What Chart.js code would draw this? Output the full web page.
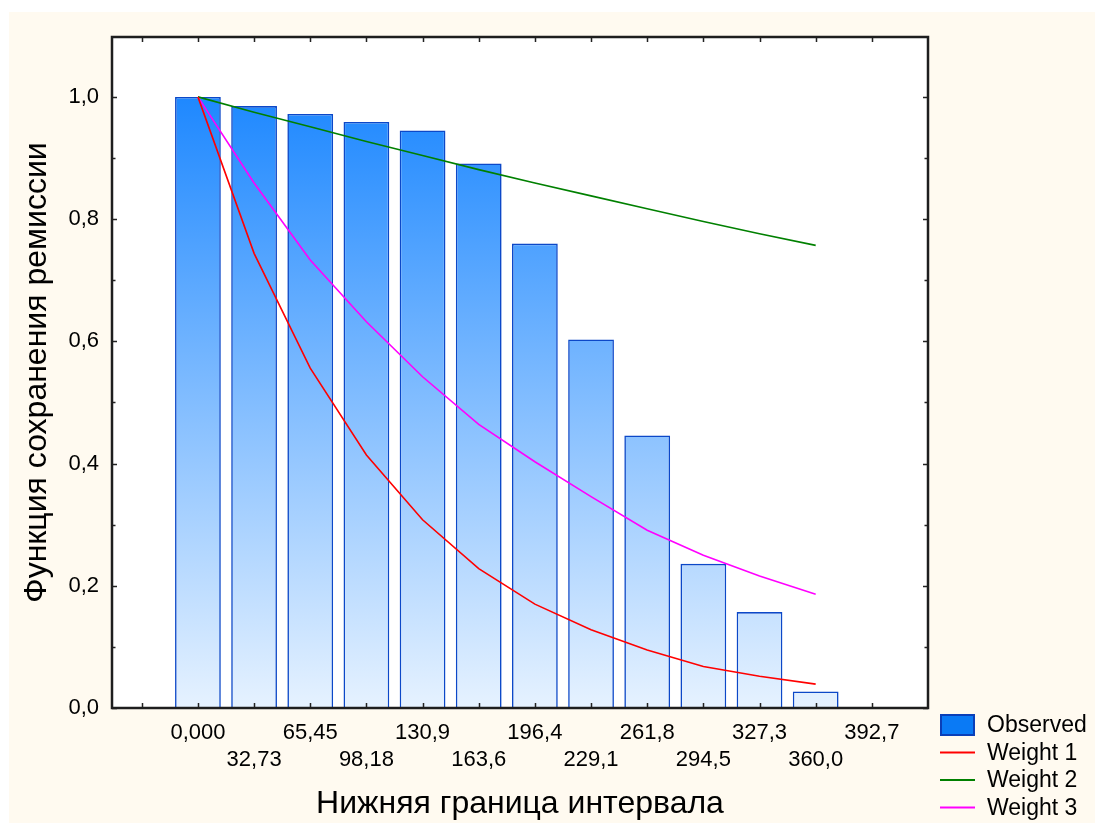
<!DOCTYPE html>
<html>
<head>
<meta charset="utf-8">
<script src="https://cdn.jsdelivr.net/npm/chart.js@4.4.0/dist/chart.umd.min.js"></script>
<style>
  html, body { margin: 0; padding: 0; background: #fff; overflow: hidden; }
  #wrap { position: absolute; left: 0; top: 0; width: 1095px; height: 823px; }
</style>
</head>
<body>
<div id="wrap"><canvas id="c" width="1095" height="823"></canvas></div>
<script>
// interval lower bounds (x tick labels)
const intervalLabels = ['0,000', '32,73', '65,45', '98,18', '130,9', '163,6', '196,4',
                        '229,1', '261,8', '294,5', '327,3', '360,0', '392,7'];
const observed = [1.000, 0.985, 0.972, 0.959, 0.945, 0.891, 0.760, 0.603, 0.446, 0.236, 0.157, 0.027];
const weight1  = [1.000, 0.744, 0.556, 0.414, 0.308, 0.228, 0.170, 0.128, 0.095, 0.068, 0.052, 0.039];
const weight2  = [1.000, 0.975, 0.951, 0.927, 0.904, 0.881, 0.859, 0.838, 0.817, 0.796, 0.776, 0.757];
const weight3  = [1.000, 0.859, 0.733, 0.632, 0.542, 0.464, 0.403, 0.346, 0.291, 0.250, 0.216, 0.186];
const yTicks = [0, 0.2, 0.4, 0.6, 0.8, 1.0];
const yMinorTicks = [0.1, 0.3, 0.5, 0.7, 0.9];

const FONT = '"Liberation Sans", Arial, sans-serif';
const toXY = arr => arr.map((y, i) => ({ x: i, y }));

// background, frame, inward ticks and legend
const framePlugin = {
    id: 'frame',
    beforeDraw(chart) {
        const { ctx, chartArea: a } = chart;
        ctx.save();
        ctx.fillStyle = '#ffffff';
        ctx.fillRect(0, 0, chart.width, chart.height);
        ctx.fillStyle = '#fffaf0';
        ctx.fillRect(9, 12, chart.width - 9, chart.height - 12);
        ctx.fillStyle = '#ffffff';
        ctx.fillRect(a.left, a.top, a.right - a.left, a.bottom - a.top);
        ctx.restore();
    },
    afterDraw(chart) {
        const { ctx, chartArea: a, scales } = chart;
        ctx.save();
        ctx.strokeStyle = '#222';
        ctx.lineWidth = 1.5;
        ctx.beginPath();
        for (let i = -1; i < intervalLabels.length; i++) {
            const px = Math.round(scales.x.getPixelForValue(i)) + 0.5;
            ctx.moveTo(px, a.bottom); ctx.lineTo(px, a.bottom - 5);
            ctx.moveTo(px, a.top); ctx.lineTo(px, a.top + 5);
        }
        yTicks.forEach(v => {
            const py = Math.round(scales.y.getPixelForValue(v)) + 0.5;
            ctx.moveTo(a.left, py); ctx.lineTo(a.left + 5, py);
            ctx.moveTo(a.right, py); ctx.lineTo(a.right - 5, py);
        });
        yMinorTicks.forEach(v => {
            const py = Math.round(scales.y.getPixelForValue(v)) + 0.5;
            ctx.moveTo(a.left, py); ctx.lineTo(a.left + 3.5, py);
            ctx.moveTo(a.right, py); ctx.lineTo(a.right - 3.5, py);
        });
        ctx.stroke();

        ctx.lineWidth = 2.5;
        ctx.strokeStyle = '#1e1e1e';
        ctx.strokeRect(a.left, a.top, a.right - a.left, a.bottom - a.top);

        // legend
        const lx = 940, lw = 35;
        ctx.fillStyle = '#0a7af5';
        ctx.fillRect(lx, 714, lw, 22);
        ctx.strokeStyle = '#0a3fb8';
        ctx.lineWidth = 2;
        ctx.strokeRect(lx + 1, 715, lw - 2, 20);
        const rows = [
            { text: 'Observed', y: 725 },
            { text: 'Weight 1', y: 752.5, color: '#ff0000' },
            { text: 'Weight 2', y: 780, color: '#008000' },
            { text: 'Weight 3', y: 807.5, color: '#ff00ff' }
        ];
        ctx.font = '23px ' + FONT;
        ctx.textBaseline = 'middle';
        ctx.fillStyle = '#000';
        rows.forEach(r => {
            if (r.color) {
                ctx.strokeStyle = r.color;
                ctx.lineWidth = 2;
                ctx.beginPath();
                ctx.moveTo(lx, r.y); ctx.lineTo(lx + lw, r.y);
                ctx.stroke();
            }
            ctx.fillText(r.text, 987, r.y + 1);
        });
        ctx.restore();
    }
};

const barFill = ctx => {
    const chart = ctx.chart;
    if (!chart.chartArea) return '#5aa8ff';
    const y = chart.scales.y;
    const g = chart.ctx.createLinearGradient(0, y.getPixelForValue(1), 0, y.getPixelForValue(0));
    g.addColorStop(0, '#1e88ff');
    g.addColorStop(1, '#e6f2ff');
    return g;
};

const lineSet = (label, data, color) => ({
    type: 'line', label, data: toXY(data), borderColor: color, borderWidth: 1.6,
    pointRadius: 0, tension: 0, fill: false, order: 0
});

new Chart(document.getElementById('c'), {
    type: 'bar',
    data: {
        datasets: [
            { label: 'Observed', data: toXY(observed), backgroundColor: barFill,
              borderColor: '#0c48c8', borderWidth: 1.6, categoryPercentage: 1, barPercentage: 0.815, order: 1 },
            lineSet('Weight 1', weight1, '#ff0000'),
            lineSet('Weight 2', weight2, '#008000'),
            lineSet('Weight 3', weight3, '#ff00ff')
        ]
    },
    options: {
        responsive: false,
        animation: false,
        devicePixelRatio: 1,
        layout: { padding: { left: 0, top: 37, right: 167, bottom: 0 } },
        plugins: { legend: { display: false }, tooltip: { enabled: false } },
        scales: {
            x: {
                type: 'linear', min: -1.53, max: 13.0, offset: false,
                afterFit: s => { s.height = 115; },
                afterBuildTicks: s => { s.ticks = intervalLabels.map((_, i) => ({ value: i })); },
                grid: { display: false, drawTicks: false },
                border: { display: false },
                ticks: {
                    autoSkip: false, maxRotation: 0, padding: 12, color: '#000',
                    font: { family: FONT, size: 22, lineHeight: 1.2 },
                    callback: (v, i) => i % 2 ? ['', intervalLabels[i]] : [intervalLabels[i]]
                },
                title: {
                    display: true, text: 'Нижняя граница интервала', color: '#000',
                    font: { family: FONT, size: 32 }, padding: { top: 0, bottom: 0 }
                }
            },
            y: {
                type: 'linear', min: 0, max: 1.098,
                afterFit: s => { s.width = 112; },
                afterBuildTicks: s => { s.ticks = yTicks.map(v => ({ value: v })); },
                grid: { display: false, drawTicks: false },
                border: { display: false },
                ticks: {
                    padding: 13, color: '#000',
                    font: { family: FONT, size: 22 },
                    callback: v => v.toFixed(1).replace('.', ',')
                },
                title: {
                    display: true, text: 'Функция сохранения ремиссии', color: '#000',
                    font: { family: FONT, size: 32 }, padding: { top: 18, bottom: 0 }
                }
            }
        }
    },
    plugins: [framePlugin]
});
</script>
</body>
</html>
